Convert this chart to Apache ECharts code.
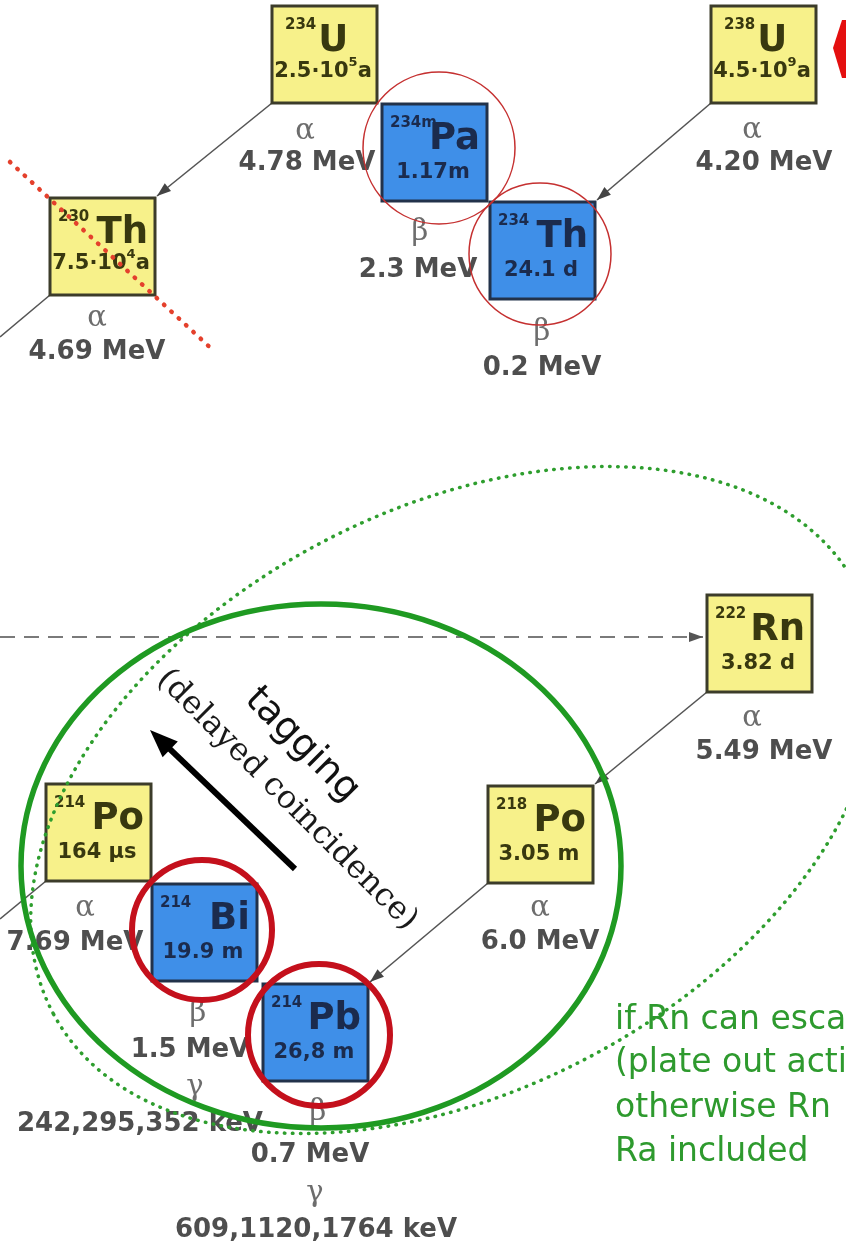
<!DOCTYPE html>
<html><head><meta charset="utf-8">
<script src="https://cdn.jsdelivr.net/npm/echarts@6/dist/echarts.min.js"></script>
<style>html,body{margin:0;padding:0;background:#fff}#c{width:846px;height:1254px}</style>
</head><body><div id="c"></div>
<script>
// ---------------- DATA ----------------
const nuclideMass     = ['234','238','234m','234','230','222','218','214','214','214'];
const nuclideSymbol   = ['U','U','Pa','Th','Th','Rn','Po','Po','Bi','Pb'];
const nuclideHalfLife = ['2.5·10^5a','4.5·10^9a','1.17m','24.1 d','7.5·10^4a','3.82 d','3.05 m','164 µs','19.9 m','26,8 m'];
const decayParticle   = ['α','α','β','β','α','α','α','α','β','β'];
const decayEnergy     = ['4.78 MeV','4.20 MeV','2.3 MeV','0.2 MeV','4.69 MeV','5.49 MeV','6.0 MeV','7.69 MeV','1.5 MeV','0.7 MeV'];
const gammaEnergy     = ['','','','','','','','','242,295,352 keV','609,1120,1764 keV'];
// parent -> daughter (index pairs) drawn as arrows
const decayLinks      = [[0,4],[1,3],[5,6],[6,9]];
const exitLinks       = [[4,0,337],[7,0,919]];   // nuclide index, leaves the picture towards (x,y)
const noteLines       = ['if Rn can escape','(plate out activity)','otherwise Rn','Ra included'];
const tagText         = 'tagging';
const tagSubText      = '(delayed coincidence)';

// ---------------- LAYOUT (chart units = axis units) ----------------
const boxLeft = [272,711,382,490,50,707,488,46,152,263];
const boxTop  = [6,6,104,202,198,595,786,784,884,984];
const BOX_W = 105, BOX_H = 97;
const particlePos = [[305,131],[752,130],[420,232],[542,332],[97,318],[752,718],[540,908],[85,908],[198,1013],[318,1112]];
const energyPos   = [[307,163],[764,163],[418,270],[542,368],[97,352],[764,752],[540,942],[75,943],[190,1050],[310,1155]];
const gammaSymPos = [null,null,null,null,null,null,null,null,[195,1087],[315,1193]];
const gammaPos    = [null,null,null,null,null,null,null,null,[140,1124],[316,1230]];

// ---------------- helpers ----------------
const mctx = document.createElement('canvas').getContext('2d');
function tw(t, font){ mctx.font = font; return mctx.measureText(t).width; }
function T(x, y, text, font, fill, align, extra){
  return Object.assign({type:'text', x:x, y:y, style:{text:text, font:font, fill:fill,
    align: align||'center', verticalAlign:'middle', textAlign: align||'center', textVerticalAlign:'middle', legacy:false}}, extra||{});
}
const F = {
  mass: 'bold 15px "DejaVu Sans"',
  sym:  'bold 37px "DejaVu Sans"',
  half: 'bold 21px "DejaVu Sans"',
  sup:  'bold 13px "DejaVu Sans"',
  energy: 'bold 26px "DejaVu Sans"',
  greek: '29px "DejaVu Serif"',
  tag: '38px "DejaVu Sans"',
  tagSub: '32px "DejaVu Serif"',
  note: '33px "DejaVu Sans"'
};

function renderBox(params, api){
  const i = params.dataIndex;
  const v = [api.value(0), api.value(1)];
  const p = api.coord(v);
  const s = api.size([BOX_W, BOX_H], v);
  const x0 = p[0], y0 = p[1], w = s[0], h = s[1];
  const beta = decayParticle[i] === 'β';
  const fill = beta ? '#3f8fe8' : '#f7f18a';
  const ink = beta ? '#1b2b4d' : '#38380f';
  const border = beta ? '#22324a' : '#3c3c2a';
  const single = nuclideSymbol[i].length === 1;
  const mx = x0 + (single ? 13 : 8);
  const massW = tw(nuclideMass[i], F.mass);
  const symW = tw(nuclideSymbol[i], F.sym);
  const sx = single ? mx + massW + 2 : x0 + w - 7 - symW;
  const ch = [
    {type:'rect', shape:{x:x0, y:y0, width:w, height:h}, style:{fill:fill, stroke:border, lineWidth:3}},
    T(mx, y0 + 19, nuclideMass[i], F.mass, ink, 'left'),
    T(sx, y0 + 35, nuclideSymbol[i], F.sym, ink, 'left')
  ];
  const hl = nuclideHalfLife[i];
  if (hl.indexOf('^') >= 0) {
    const parts = hl.split('^');
    const base = parts[0], exp = parts[1].charAt(0), unit = parts[1].slice(1);
    const wb = tw(base, F.half), we = tw(exp, F.sup), wu = tw(unit, F.half);
    let cx = x0 + 51 - (wb + we + wu)/2;
    const cy = y0 + 66;
    ch.push(T(cx, cy, base, F.half, ink, 'left'));
    ch.push(T(cx + wb, cy - 9, exp, F.sup, ink, 'left'));
    ch.push(T(cx + wb + we, cy, unit, F.half, ink, 'left'));
  } else {
    ch.push(T(x0 + 51, y0 + 69, hl, F.half, ink, 'center'));
  }
  return {type:'group', children: ch};
}

function renderLabel(params, api){
  const i = params.dataIndex;
  const ch = [];
  const gp = api.coord([api.value(0), api.value(1)]);
  const ep = api.coord([api.value(2), api.value(3)]);
  ch.push(T(gp[0], gp[1], decayParticle[i], F.greek, '#6d6d6d'));
  ch.push(T(ep[0], ep[1], decayEnergy[i], F.energy, '#4e4e4e'));
  if (gammaEnergy[i]) {
    const a = api.coord(gammaSymPos[i]);
    const b = api.coord(gammaPos[i]);
    ch.push(T(a[0], a[1], 'γ', F.greek, '#6d6d6d'));
    ch.push(T(b[0], b[1], gammaEnergy[i], F.energy, '#4e4e4e'));
  }
  return {type:'group', children: ch};
}

function arrowHead(a, b, L, Wd, color){
  const ang = Math.atan2(b[1]-a[1], b[0]-a[0]);
  const c = Math.cos(ang), s = Math.sin(ang);
  const bx = b[0] - L*c, by = b[1] - L*s;
  return {type:'polygon', shape:{points:[[b[0],b[1]],[bx - Wd*s, by + Wd*c],[bx + Wd*s, by - Wd*c]]}, style:{fill:color}};
}
function renderArrow(params, api){
  const a = api.coord([api.value(0), api.value(1)]);
  const b = api.coord([api.value(2), api.value(3)]);
  const head = api.value(4), dashed = api.value(5);
  const ch = [{type:'line', shape:{x1:a[0], y1:a[1], x2:b[0], y2:b[1]},
    style:{stroke: dashed ? '#7a7a7a' : '#555', lineWidth: dashed ? 2 : 1.6, lineDash: dashed ? [15,9] : null}}];
  if (head) ch.push(arrowHead(a, b, 14, 5, dashed ? '#555' : '#444'));
  return {type:'group', children: ch};
}

// arrow data built from the layout
const arrowData = decayLinks.map(function(l){
  return [boxLeft[l[0]], boxTop[l[0]] + BOX_H, boxLeft[l[1]] + BOX_W + 2, boxTop[l[1]] - 2, 1, 0];
}).concat(exitLinks.map(function(l){
  return [boxLeft[l[0]], boxTop[l[0]] + BOX_H, l[1], l[2], 0, 0];
})).concat([[0, boxTop[5] + 42, boxLeft[5] - 4, boxTop[5] + 42, 1, 1]]);

// circles around the measured nuclides: cx, cy, r, thick
const circleData = [[439,148,76,0],[540,254,71,0],[202,930,70,1],[319,1035,71,1]];
function renderCircle(params, api){
  const c = api.coord([api.value(0), api.value(1)]);
  const r = api.size([api.value(2), 0])[0];
  const thick = api.value(3);
  return {type:'circle', shape:{cx:c[0], cy:c[1], r:r},
    style:{fill:'none', stroke: thick ? '#c4101c' : '#c53030', lineWidth: thick ? 6 : 1.5}};
}

// green regions: cx, cy, rx, ry, rotation(deg), dotted
const regionData = [[455,800,455,290,28,1],[321,866,300,262,0,0]];
function renderRegion(params, api){
  const c = api.coord([api.value(0), api.value(1)]);
  const sz = api.size([api.value(2), api.value(3)]);
  const dotted = api.value(5);
  return {type:'ellipse', x:c[0], y:c[1], rotation: api.value(4)*Math.PI/180,
    shape:{cx:0, cy:0, rx:sz[0], ry:sz[1]},
    style:{fill:'none', stroke: dotted ? '#2e9e2e' : '#1f9a22', lineWidth: dotted ? 3.5 : 5.5,
      lineDash: dotted ? [0.5, 7.5] : null, lineCap:'round'}};
}

// misc annotation marks
const crossLine = [[10,162],[215,352]];         // red dotted strike-through of 230Th
const tagArrow = [[295,869],[150,730]];        // tagging arrow, tail -> tip
const tagCenter = [302,745], tagSubCenter = [287,800];
const noteLeft = 615, noteTops = [1020,1063,1108,1152];
const cornerMark = [[846,20],[842,20],[833,48],[842,78],[846,78]];

function renderMisc(params, api){
  const a = api.coord(crossLine[0]), b = api.coord(crossLine[1]);
  const t0 = api.coord(tagArrow[0]), t1 = api.coord(tagArrow[1]);
  const ang = Math.atan2(t1[1]-t0[1], t1[0]-t0[0]);
  const t1b = [t1[0] - 20*Math.cos(ang), t1[1] - 20*Math.sin(ang)];
  const tc = api.coord(tagCenter), ts = api.coord(tagSubCenter);
  const ch = [
    {type:'line', shape:{x1:a[0], y1:a[1], x2:b[0], y2:b[1]}, style:{stroke:'#e4402c', lineWidth:4.5, lineDash:[0.5,9.5], lineCap:'round'}},
    {type:'line', shape:{x1:t0[0], y1:t0[1], x2:t1b[0], y2:t1b[1]}, style:{stroke:'#000', lineWidth:6}},
    arrowHead(t0, t1, 28, 11, '#000'),
    T(0, 0, tagText, F.tag, '#111', 'center', {x:tc[0], y:tc[1], rotation:-Math.PI/4}),
    T(0, 0, tagSubText, F.tagSub, '#1a1a1a', 'center', {x:ts[0], y:ts[1], rotation:-Math.PI/4}),
    {type:'polygon', shape:{points: cornerMark.map(function(q){return api.coord(q);})}, style:{fill:'#e40f0f'}}
  ];
  noteLines.forEach(function(line, k){
    const p = api.coord([noteLeft, noteTops[k]]);
    ch.push(T(p[0], p[1], line, F.note, '#2e9a2e', 'left'));
  });
  return {type:'group', children: ch};
}

const chart = echarts.init(document.getElementById('c'), null, {renderer:'canvas', width:846, height:1254});
chart.setOption({
  backgroundColor:'#ffffff',
  animation:false,
  grid:{left:0, right:0, top:0, bottom:0},
  xAxis:{type:'value', min:0, max:846, show:false},
  yAxis:{type:'value', min:0, max:1254, inverse:true, show:false},
  series:[
    {type:'custom', name:'decays', z:1, silent:true, renderItem:renderArrow, data:arrowData},
    {type:'custom', name:'nuclides', z:2, silent:true, renderItem:renderBox,
      data: boxLeft.map(function(x,i){return [x, boxTop[i]];})},
    {type:'custom', name:'labels', z:3, silent:true, renderItem:renderLabel,
      data: particlePos.map(function(p,i){return [p[0], p[1], energyPos[i][0], energyPos[i][1]];})},
    {type:'custom', name:'circles', z:4, silent:true, renderItem:renderCircle, data:circleData},
    {type:'custom', name:'regions', z:5, silent:true, renderItem:renderRegion, data:regionData},
    {type:'custom', name:'notes', z:6, silent:true, renderItem:renderMisc, data:[[0,0]]}
  ]
});
</script></body></html>
